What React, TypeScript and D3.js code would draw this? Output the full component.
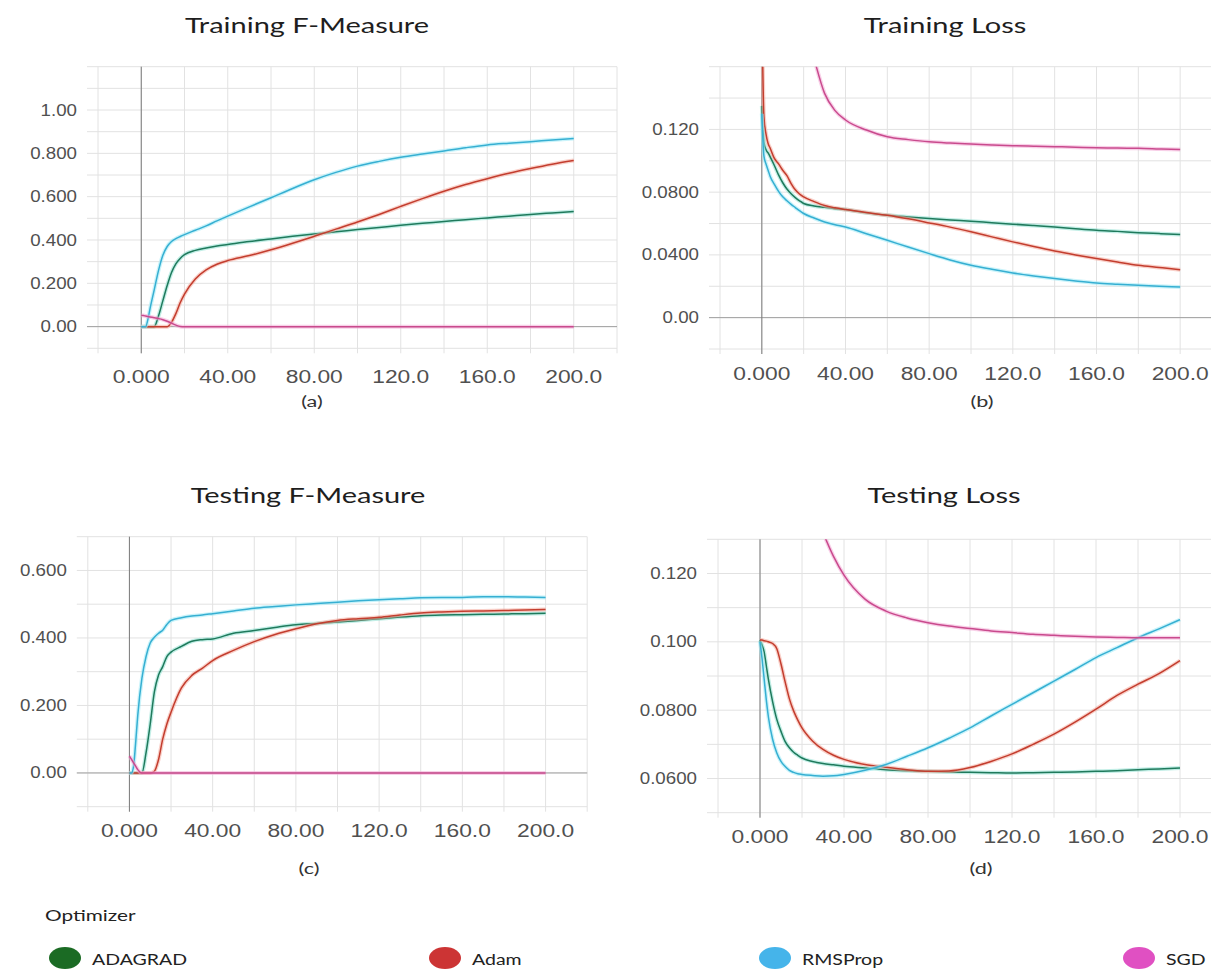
import * as d3 from "d3";

const EPOCHS = [0, 1, 2, 3, 4, 6, 8, 10, 12, 14, 16, 18, 20, 25, 30, 35, 40, 50, 60, 70, 80, 90, 100, 110, 120, 130, 140, 150, 160, 170, 180, 190, 200];
const X_TICKS = [0, 40, 80, 120, 160, 200];

const OPTIMIZERS = ["ADAGRAD", "Adam", "RMSProp", "SGD"];
const LINE_COLORS = ["#1f7a5c", "#c33d2e", "#36afd2", "#c94a8d"];
const HALO_COLORS = ["#8fe0d2", "#f4a99c", "#9eeaf6", "#f3a9d6"];
const LEGEND_COLORS = ["#1b6b24", "#cc3434", "#45b4ea", "#e050c2"];

// (a) Training F-Measure
const TRAIN_F_ADAGRAD = [0, 0, 0, 0, 0, 0, 0.05, 0.12, 0.19, 0.25, 0.29, 0.315, 0.332, 0.352, 0.363, 0.372, 0.379, 0.393, 0.405, 0.417, 0.428, 0.438, 0.448, 0.458, 0.468, 0.477, 0.485, 0.494, 0.502, 0.51, 0.518, 0.525, 0.532];
const TRAIN_F_ADAM = [0, 0, 0, 0, 0, 0, 0, 0, 0, 0.02, 0.06, 0.11, 0.15, 0.22, 0.262, 0.288, 0.305, 0.328, 0.355, 0.385, 0.417, 0.45, 0.483, 0.518, 0.555, 0.591, 0.625, 0.656, 0.683, 0.708, 0.73, 0.75, 0.767];
const TRAIN_F_RMS = [0, 0, 0, 0.03, 0.08, 0.17, 0.26, 0.33, 0.37, 0.393, 0.406, 0.416, 0.425, 0.445, 0.465, 0.488, 0.51, 0.553, 0.595, 0.638, 0.678, 0.712, 0.741, 0.763, 0.782, 0.797, 0.811, 0.826, 0.839, 0.847, 0.854, 0.862, 0.869];
const TRAIN_F_SGD = [0.052, 0.051, 0.049, 0.047, 0.045, 0.041, 0.037, 0.032, 0.025, 0.016, 0.007, 0.001, 0, 0, 0, 0, 0, 0, 0, 0, 0, 0, 0, 0, 0, 0, 0, 0, 0, 0, 0, 0, 0];
const Y_TICKS_A = [0, 0.2, 0.4, 0.6, 0.8, 1.0];

// (b) Training Loss
const TRAIN_L_ADAGRAD = [0.135, 0.112, 0.107, 0.105, 0.1025, 0.097, 0.091, 0.086, 0.082, 0.079, 0.0765, 0.0745, 0.0728, 0.0712, 0.0703, 0.0695, 0.0689, 0.0668, 0.0653, 0.0642, 0.0632, 0.0623, 0.0615, 0.0605, 0.0596, 0.0587, 0.0578, 0.0567, 0.0557, 0.055, 0.0542, 0.0536, 0.053];
const TRAIN_L_ADAM = [0.2, 0.128, 0.117, 0.111, 0.108, 0.1015, 0.098, 0.094, 0.0905, 0.0855, 0.0815, 0.0788, 0.077, 0.074, 0.0715, 0.07, 0.0689, 0.067, 0.0653, 0.063, 0.0604, 0.0577, 0.0547, 0.0515, 0.0483, 0.0453, 0.0425, 0.04, 0.0377, 0.0355, 0.0334, 0.032, 0.0306];
const TRAIN_L_RMS = [0.13, 0.103, 0.098, 0.094, 0.09, 0.085, 0.0805, 0.077, 0.0745, 0.0722, 0.0702, 0.0682, 0.0664, 0.0635, 0.061, 0.0592, 0.0578, 0.0535, 0.0493, 0.045, 0.0408, 0.0368, 0.0334, 0.0308, 0.0285, 0.0266, 0.0249, 0.0234, 0.0221, 0.0213, 0.0206, 0.02, 0.0195];
const TRAIN_L_SGD = [0.6, 0.5, 0.45, 0.41, 0.38, 0.34, 0.3, 0.27, 0.25, 0.23, 0.215, 0.2, 0.19, 0.165, 0.143, 0.132, 0.126, 0.1196, 0.1153, 0.1135, 0.1121, 0.1113, 0.1107, 0.1101, 0.1096, 0.1093, 0.109, 0.1087, 0.1083, 0.1081, 0.108, 0.1076, 0.1072];
const Y_TICKS_B = [0, 0.04, 0.08, 0.12];

// (c) Testing F-Measure
const TEST_F_ADAGRAD = [0, 0, 0, 0, 0, 0, 0.06, 0.145, 0.24, 0.29, 0.315, 0.345, 0.358, 0.375, 0.39, 0.395, 0.397, 0.414, 0.422, 0.431, 0.439, 0.443, 0.447, 0.452, 0.457, 0.462, 0.466, 0.468, 0.469, 0.47, 0.471, 0.472, 0.473];
const TEST_F_ADAM = [0, 0, 0, 0, 0, 0, 0, 0, 0.005, 0.04, 0.1, 0.145, 0.18, 0.252, 0.289, 0.31, 0.333, 0.363, 0.389, 0.41, 0.427, 0.442, 0.452, 0.457, 0.461, 0.468, 0.474, 0.477, 0.479, 0.48, 0.481, 0.483, 0.484];
const TEST_F_RMS = [0, 0, 0.02, 0.09, 0.17, 0.28, 0.345, 0.385, 0.402, 0.414, 0.423, 0.44, 0.452, 0.46, 0.465, 0.468, 0.472, 0.48, 0.488, 0.493, 0.498, 0.502, 0.506, 0.51, 0.513, 0.516, 0.519, 0.52, 0.52, 0.522, 0.522, 0.521, 0.52];
const TEST_F_SGD = [0.05, 0.04, 0.03, 0.02, 0.01, 0, 0, 0, 0, 0, 0, 0, 0, 0, 0, 0, 0, 0, 0, 0, 0, 0, 0, 0, 0, 0, 0, 0, 0, 0, 0, 0, 0];
const Y_TICKS_C = [0, 0.2, 0.4, 0.6];

// (d) Testing Loss
const TEST_L_ADAGRAD = [0.1005, 0.099, 0.097, 0.093, 0.089, 0.0825, 0.0773, 0.0738, 0.0708, 0.069, 0.0677, 0.0668, 0.066, 0.065, 0.0644, 0.064, 0.0636, 0.0631, 0.0626, 0.0623, 0.0621, 0.0619, 0.0618, 0.0617, 0.0616, 0.0617, 0.0618, 0.0619, 0.0621, 0.0623, 0.0626, 0.0628, 0.0631];
const TEST_L_ADAM = [0.1005, 0.1005, 0.1003, 0.1002, 0.1, 0.0995, 0.098, 0.0935, 0.0882, 0.0833, 0.0798, 0.0771, 0.0748, 0.071, 0.0685, 0.0668, 0.0656, 0.0641, 0.0633, 0.0626, 0.0621, 0.0622, 0.0632, 0.065, 0.0672, 0.07, 0.073, 0.0765, 0.0803, 0.0843, 0.0876, 0.0907, 0.0945];
const TEST_L_RMS = [0.1, 0.095, 0.089, 0.083, 0.078, 0.0715, 0.0675, 0.065, 0.0635, 0.0624, 0.0618, 0.0614, 0.0612, 0.0609, 0.0607, 0.0608, 0.0612, 0.0624, 0.0641, 0.0665, 0.069, 0.0718, 0.0748, 0.0783, 0.0817, 0.0851, 0.0885, 0.0919, 0.0954, 0.0983, 0.1012, 0.1038, 0.1065];
const TEST_L_SGD = [0.4, 0.35, 0.31, 0.28, 0.26, 0.23, 0.21, 0.195, 0.182, 0.172, 0.164, 0.157, 0.151, 0.14, 0.132, 0.125, 0.1195, 0.1125, 0.109, 0.107, 0.1056, 0.1046, 0.1039, 0.1032, 0.1027, 0.1022, 0.1019, 0.1016, 0.1014, 0.1013, 0.1012, 0.1012, 0.1012];
const Y_TICKS_D = [0.06, 0.08, 0.1, 0.12];

const W = 1211;
const H = 970;
const TICK_FONT = "'Liberation Sans', Arial, sans-serif";
const LABEL_FONT = "Lato, 'Open Sans', sans-serif";

const PANELS = [
	{ id: "a", title: "Training F-Measure", sub: "(a)", left: 98, right: 617, top: 66.7, bottom: 348.3, yDomain: [-0.1, 1.2], yStep: 0.1, yTicks: Y_TICKS_A, tx: 307, ty: 33, sx: 312, sy: 407, xly: 383, series: [TRAIN_F_ADAGRAD, TRAIN_F_ADAM, TRAIN_F_RMS, TRAIN_F_SGD] },
	{ id: "b", title: "Training Loss", sub: "(b)", left: 720, right: 1222, top: 66.7, bottom: 349, yDomain: [-0.02, 0.16], yStep: 0.02, yTicks: Y_TICKS_B, tx: 945, ty: 33, sx: 982, sy: 407, xly: 380, series: [TRAIN_L_ADAGRAD, TRAIN_L_ADAM, TRAIN_L_RMS, TRAIN_L_SGD] },
	{ id: "c", title: "Testing F-Measure", sub: "(c)", left: 87.8, right: 587.2, top: 536.7, bottom: 806.7, yDomain: [-0.1, 0.7], yStep: 0.1, yTicks: Y_TICKS_C, tx: 308, ty: 503, sx: 309, sy: 874, xly: 837, series: [TEST_F_ADAGRAD, TEST_F_ADAM, TEST_F_RMS, TEST_F_SGD] },
	{ id: "d", title: "Testing Loss", sub: "(d)", left: 718, right: 1222, top: 539.3, bottom: 812.7, yDomain: [0.05, 0.13], yStep: 0.01, yTicks: Y_TICKS_D, tx: 944, ty: 503, sx: 981, sy: 874, xly: 843, series: [TEST_L_ADAGRAD, TEST_L_ADAM, TEST_L_RMS, TEST_L_SGD] },
];

const LEGEND_X = [65, 445, 775, 1139];

// the source picture is stretched sideways, so text gets a horizontal scale
function StretchText({ x, y, anchor = "middle", size, family, fill, baseline, sx = 1.2, children }: any) {
	return (
		<text
			transform={`translate(${x},${y}) scale(${sx},1)`}
			textAnchor={anchor}
			fontSize={size}
			fontFamily={family}
			fill={fill}
			dominantBaseline={baseline}
		>
			{children}
		</text>
	);
}

function Panel({ p }: { p: (typeof PANELS)[number] }) {
	const x = d3.scaleLinear().domain([-20, 220]).range([p.left, p.right]);
	const y = d3.scaleLinear().domain(p.yDomain).range([p.bottom, p.top]);
	const line = d3
		.line<number>()
		.x((_, i) => x(EPOCHS[i]))
		.y((d) => y(d))
		.curve(d3.curveMonotoneX);

	const vGrid = d3.range(-20, 221, 20);
	const n = Math.round((p.yDomain[1] - p.yDomain[0]) / p.yStep);
	const hGrid = d3.range(n + 1).map((i) => p.yDomain[0] + i * p.yStep);
	const fmt = d3.format(".3r");
	const xfmt = d3.format(".4r");
	const hasZero = p.yDomain[0] < 0 && p.yDomain[1] > 0;

	return (
		<g>
			<defs>
				<clipPath id={`clip-${p.id}`}>
					<rect x={p.left} y={p.top} width={p.right - p.left} height={p.bottom - p.top} />
				</clipPath>
			</defs>
			{hGrid.map((v, i) => (
				<line key={`h${i}`} x1={p.left - 11} x2={p.right} y1={y(v)} y2={y(v)} stroke="#e2e2e2" strokeWidth={1} />
			))}
			{vGrid.map((v) => (
				<line key={`v${v}`} x1={x(v)} x2={x(v)} y1={p.top} y2={p.bottom + 5} stroke="#e2e2e2" strokeWidth={1} />
			))}
			{hasZero && <line x1={p.left - 11} x2={p.right} y1={y(0)} y2={y(0)} stroke="#a0a0a0" strokeWidth={1} />}
			<line x1={x(0)} x2={x(0)} y1={p.top} y2={p.bottom + 5} stroke="#7a7a7a" strokeWidth={1} />

			<g clipPath={`url(#clip-${p.id})`}>
				{p.series.map((s, i) => (
					<g key={i}>
						<path d={line(s) ?? ""} fill="none" stroke={HALO_COLORS[i]} strokeWidth={4} strokeOpacity={0.55} />
						<path d={line(s) ?? ""} fill="none" stroke={LINE_COLORS[i]} strokeWidth={1.5} />
					</g>
				))}
			</g>

			{p.yTicks.map((v) => (
				<StretchText key={`yl${v}`} x={p.left - 21} y={y(v)} anchor="end" size={16} sx={1.17} family={TICK_FONT} fill="#505050" baseline="central">
					{fmt(v)}
				</StretchText>
			))}
			{X_TICKS.map((v) => (
				<StretchText key={`xl${v}`} x={x(v)} y={p.xly} size={19} family={TICK_FONT} fill="#505050">
					{xfmt(v)}
				</StretchText>
			))}
			<StretchText x={p.tx} y={p.ty} size={21} sx={1.38} family={LABEL_FONT} fill="#1e1e1e">
				{p.title}
			</StretchText>
			<StretchText x={p.sx} y={p.sy} size={16} sx={1.35} family={LABEL_FONT} fill="#333">
				{p.sub}
			</StretchText>
		</g>
	);
}

export default function App() {
	return (
		<svg width={W} height={H} style={{ position: "absolute", left: 0, top: 0, background: "#fff" }}>
			<rect width={W} height={H} fill="#fff" />
			{PANELS.map((p) => (
				<Panel key={p.id} p={p} />
			))}
			<StretchText x={45} y={921} anchor="start" size={16} sx={1.3} family={LABEL_FONT} fill="#222">
				Optimizer
			</StretchText>
			{OPTIMIZERS.map((name, i) => (
				<g key={name}>
					<ellipse cx={LEGEND_X[i]} cy={958} rx={16} ry={11} fill={LEGEND_COLORS[i]} />
					<StretchText x={LEGEND_X[i] + 27} y={965} anchor="start" size={16} sx={1.22} family={LABEL_FONT} fill="#222">
						{name}
					</StretchText>
				</g>
			))}
		</svg>
	);
}
